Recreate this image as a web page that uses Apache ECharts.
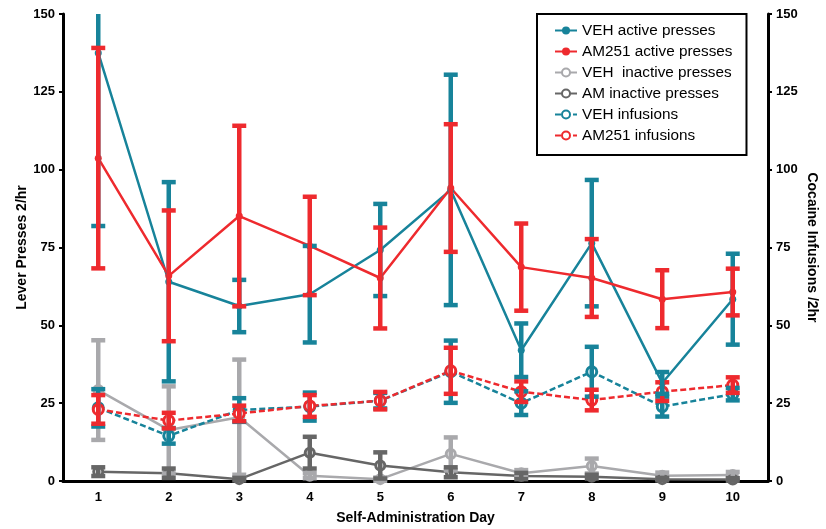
<!DOCTYPE html>
<html>
<head>
<meta charset="utf-8">
<script src="https://cdn.jsdelivr.net/npm/echarts@6/dist/echarts.min.js"></script>
<style>
  html, body { margin: 0; padding: 0; background: #fff; }
  #chart { width: 826px; height: 529px; }
</style>
</head>
<body>
<div id="chart"></div>
<script>
// Days of self-administration
const days = ['1', '2', '3', '4', '5', '6', '7', '8', '9', '10'];

// Lever presses (mean and SEM per day)
const vehActive      = [137.5, 64, 56.2, 60, 74.2, 93.5, 42, 76.4, 31.5, 58.4];
const vehActiveSem   = [55.6, 32, 8.4, 15.5, 14.8, 37, 8.6, 20.3, 3.5, 14.6];
const amActive       = [103.7, 65.9, 85.1, 75.5, 65.2, 94.1, 68.7, 65.2, 58.4, 60.7];
const amActiveSem    = [35.4, 21, 29, 15.8, 16.2, 20.5, 14, 12.5, 9.3, 7.5];
const vehInactive    = [29.2, 16.4, 20.5, 1.7, 0.6, 8.7, 2.5, 4.8, 1.7, 1.9];
const vehInactiveSem = [16, 14, 18.5, 0.8, 0.5, 5.3, 1, 2.4, 1, 1];
const amInactive     = [3, 2.5, 0.6, 9.1, 5, 2.8, 1.6, 1.4, 0.6, 0.5];
const amInactiveSem  = [1.4, 1.5, 0.4, 5.1, 4.2, 1.6, 1, 0.6, 0.4, 0.4];

// Cocaine infusions (mean and SEM per day)
const vehInf    = [23.5, 14.5, 22.8, 23.9, 25.8, 35.1, 25, 35.1, 23.9, 27.9];
const vehInfSem = [6, 2.5, 3.8, 4.5, 2.5, 10, 3.8, 8, 3.2, 2];
const amInf     = [23, 19.4, 21.7, 24.1, 25.8, 35.4, 28.7, 26, 28.7, 30.8];
const amInfSem  = [4.6, 2.5, 2.5, 3.5, 2.8, 7.4, 3.3, 3.3, 3, 2.5];

// Axis ticks
const yMin = 0, yMax = 150, yStep = 25;

const TEAL = '#17839a';
const RED = '#ee2a2e';
const LIGHT = '#a9a9ac';
const DARK = '#666666';
const FONT = 'Liberation Sans, Arial, sans-serif';

// Vertical SEM bar with flat caps; parts beyond the axis range are cut off
function errorBars(name, means, sems, color, yAxisIndex) {
  return {
    name: name,
    type: 'custom',
    yAxisIndex: yAxisIndex,
    z: 3,
    silent: true,
    data: means.map((m, i) => [i, m, sems[i]]),
    renderItem: function (params, api) {
      const i = api.value(0), m = api.value(1), s = api.value(2);
      const hi = Math.min(m + s, yMax), lo = Math.max(m - s, yMin);
      const p1 = api.coord([i, hi]);
      const p2 = api.coord([i, lo]);
      const cw = 7;
      const style = { stroke: color, lineWidth: 4.5 };
      const children = [
        { type: 'line', shape: { x1: p1[0], y1: p1[1], x2: p2[0], y2: p2[1] }, style: style }
      ];
      if (m + s <= yMax) {
        children.push({ type: 'line', shape: { x1: p1[0] - cw, y1: p1[1], x2: p1[0] + cw, y2: p1[1] }, style: style });
      }
      if (m - s >= yMin) {
        children.push({ type: 'line', shape: { x1: p2[0] - cw, y1: p2[1], x2: p2[0] + cw, y2: p2[1] }, style: style });
      }
      return { type: 'group', children: children };
    }
  };
}

function lineSeries(name, data, color, opts) {
  return {
    name: name,
    type: 'line',
    yAxisIndex: opts.axis || 0,
    z: opts.z || 2,
    data: data,
    symbol: 'circle',
    symbolSize: opts.size,
    showAllSymbol: true,
    itemStyle: opts.open
      ? { color: '#ffffff', borderColor: color, borderWidth: opts.border || 3 }
      : { color: color },
    lineStyle: { color: color, width: 2.5, type: opts.dash ? [6, 3] : 'solid' },
    emphasis: { disabled: true }
  };
}

const chart = echarts.init(document.getElementById('chart'));

const yAxisCommon = {
  type: 'value',
  min: yMin,
  max: yMax,
  interval: yStep,
  splitLine: { show: false },
  axisLine: { show: true, lineStyle: { color: '#000', width: 3 } },
  axisTick: { show: true, length: 4, lineStyle: { color: '#000', width: 2 } },
  axisLabel: { color: '#000', fontWeight: 'bold', fontSize: 13, fontFamily: FONT, margin: 8 },
  nameLocation: 'middle',
  nameMoveOverlap: false,
  nameTextStyle: { color: '#000', fontWeight: 'bold', fontSize: 14, fontFamily: FONT }
};

chart.setOption({
  animation: false,
  backgroundColor: '#ffffff',
  grid: { left: 63, right: 58, top: 14, bottom: 48, containLabel: false, outerBoundsMode: 'none' },
  legend: {
    left: 537,
    top: 14,
    orient: 'vertical',
    data: ['VEH active presses', 'AM251 active presses', 'VEH  inactive presses',
           'AM inactive presses', 'VEH infusions', 'AM251 infusions'],
    itemWidth: 22,
    itemHeight: 10,
    itemGap: 6,
    padding: [9, 14, 12, 17],
    borderColor: '#000',
    borderWidth: 2,
    backgroundColor: '#fff',
    textStyle: { color: '#000', fontSize: 15.3, fontFamily: FONT, lineHeight: 15 }
  },
  xAxis: {
    type: 'category',
    data: days,
    boundaryGap: true,
    name: 'Self-Administration Day',
    nameLocation: 'middle',
    nameGap: 30,
    nameTextStyle: { color: '#000', fontWeight: 'bold', fontSize: 14, fontFamily: FONT },
    axisLine: { lineStyle: { color: '#000', width: 3 } },
    axisTick: { alignWithLabel: true, length: 7, lineStyle: { color: '#000', width: 3 } },
    axisLabel: { color: '#000', fontWeight: 'bold', fontSize: 13, fontFamily: FONT, margin: 10 }
  },
  yAxis: [
    Object.assign({}, yAxisCommon, {
      position: 'left',
      name: 'Lever Presses 2/hr',
      nameGap: 34,
      nameRotate: 90
    }),
    Object.assign({}, yAxisCommon, {
      position: 'right',
      name: 'Cocaine Infusions /2hr',
      nameGap: 37,
      nameRotate: -90
    })
  ],
  series: [
    lineSeries('VEH  inactive presses', vehInactive, LIGHT, { size: 9, open: true }),
    errorBars('VEH inactive SEM', vehInactive, vehInactiveSem, LIGHT, 0),
    lineSeries('AM inactive presses', amInactive, DARK, { size: 9, open: true }),
    errorBars('AM inactive SEM', amInactive, amInactiveSem, DARK, 0),
    lineSeries('VEH infusions', vehInf, TEAL, { size: 10, open: true, dash: true, axis: 1 }),
    errorBars('VEH infusions SEM', vehInf, vehInfSem, TEAL, 1),
    lineSeries('AM251 infusions', amInf, RED, { size: 10, open: true, dash: true, axis: 1 }),
    errorBars('AM251 infusions SEM', amInf, amInfSem, RED, 1),
    lineSeries('VEH active presses', vehActive, TEAL, { size: 7 }),
    errorBars('VEH active SEM', vehActive, vehActiveSem, TEAL, 0),
    lineSeries('AM251 active presses', amActive, RED, { size: 7 }),
    errorBars('AM251 active SEM', amActive, amActiveSem, RED, 0)
  ]
});
</script>
</body>
</html>
